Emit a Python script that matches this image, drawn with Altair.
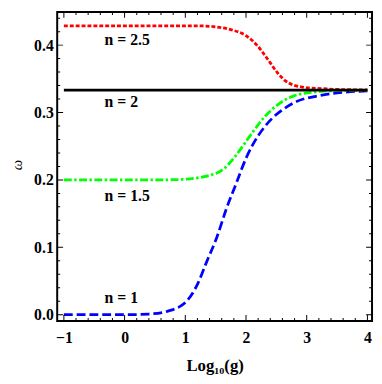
import altair as alt
import pandas as pd

# ---- data: x = log10(g), y = omega ----
lg_n1 = [-1.0, 0.0, 0.4, 0.7, 1.0, 1.2, 1.35, 1.52, 1.68, 1.84, 2.0, 2.11, 2.3, 2.45, 2.6, 2.8, 3.2, 3.6, 4.0]
w_n1 = [0.0, 0.0, 0.001, 0.005, 0.018, 0.045, 0.078, 0.115, 0.158, 0.195, 0.232, 0.252, 0.278, 0.293, 0.304, 0.315, 0.325, 0.330, 0.332]

lg_n15 = [-1.0, 0.5, 0.9, 1.2, 1.41, 1.6, 1.73, 1.89, 2.0, 2.16, 2.3, 2.5, 2.8, 3.2, 3.6, 4.0]
w_n15 = [0.2, 0.2, 0.2006, 0.203, 0.207, 0.214, 0.225, 0.243, 0.257, 0.277, 0.293, 0.310, 0.325, 0.331, 0.3328, 0.3332]

lg_n2 = [-1.0, 4.0]
w_n2 = [0.3333, 0.3333]

lg_n25 = [-1.0, 1.2, 1.6, 1.75, 2.0, 2.19, 2.35, 2.51, 2.65, 2.91, 3.24, 3.6, 4.0]
w_n25 = [0.4286, 0.4286, 0.426, 0.423, 0.414, 0.399, 0.380, 0.360, 0.347, 0.338, 0.3355, 0.334, 0.3336]

label_text = ["n = 2.5", "n = 2", "n = 1.5", "n = 1"]
label_x = [-0.33, -0.33, -0.33, -0.33]
label_y = [0.408, 0.315, 0.176, 0.024]

x_major = [-1, 0, 1, 2, 3, 4]
x_minor = [round(-1 + 0.2 * k, 2) for k in range(26) if k % 5 != 0]
y_major = [0.0, 0.1, 0.2, 0.3, 0.4]
y_minor = [round(0.02 * k, 2) for k in range(23) if k % 5 != 0]

W, H = 320, 314
FONT = "Liberation Serif"

xscale = alt.Scale(domain=[-1.11, 4.076], nice=False, zero=False)
yscale = alt.Scale(domain=[-0.0092, 0.4492], nice=False, zero=False)

x_axis = alt.Axis(values=x_major, format="d", ticks=False, domain=False, grid=False,
                  labelFont=FONT, labelFontWeight="bold", labelFontSize=16, labelColor="black",
                  labelPadding=9, labelFlush=False, labelOverlap=False,
                  title="Log₁₀(g)", titleFont=FONT, titleFontSize=17, titleFontWeight="bold",
                  titleColor="black", titleY=50, titleBaseline="alphabetic")
y_axis = alt.Axis(values=y_major, format=".1f", ticks=False, domain=False, grid=False,
                  labelFont=FONT, labelFontWeight="bold", labelFontSize=16, labelColor="black",
                  labelPadding=4, labelFlush=False, labelOverlap=False,
                  title="ω", titleFont=FONT, titleFontSize=15, titleFontStyle="italic",
                  titleFontWeight="normal", titleColor="black", titleX=-36, titleY=155,
                  titleAlign="center", titleBaseline="alphabetic", titleAngle=-90)

X = lambda f: alt.X(f, scale=xscale, axis=x_axis)
Y = lambda f: alt.Y(f, scale=yscale, axis=y_axis)


def curve(lg, w, color, dash, width):
    df = pd.DataFrame({"lg": lg, "w": w})
    return alt.Chart(df).mark_line(color=color, strokeWidth=width, strokeDash=dash,
                                   interpolate="monotone", clip=True).encode(
        x=X("lg:Q"), y=Y("w:Q"))


layers = [
    curve(lg_n1, w_n1, "#0000ff", [9, 4], 2.8),
    curve(lg_n15, w_n15, "#00ff00", [8, 2.5, 2.5, 2.5], 2.8),
    curve(lg_n25, w_n25, "#ff0000", [4, 2], 2.8),
    curve(lg_n2, w_n2, "black", [1, 0], 2.8),
]

xt = pd.DataFrame({"v": x_major + x_minor, "len": [12] * len(x_major) + [6] * len(x_minor)})
yt = pd.DataFrame({"v": y_major + y_minor, "len": [12] * len(y_major) + [6] * len(y_minor)})

for ypix in [0, H]:
    layers.append(alt.Chart(xt).mark_tick(orient="vertical", thickness=1, color="black", clip=True,
                                          opacity=1).encode(
        x=X("v:Q"), y=alt.value(ypix),
        size=alt.Size("len:Q", scale=None, legend=None)))
for xpix in [0, W]:
    layers.append(alt.Chart(yt).mark_tick(orient="horizontal", thickness=1, color="black", clip=True,
                                          opacity=1).encode(
        y=Y("v:Q"), x=alt.value(xpix),
        size=alt.Size("len:Q", scale=None, legend=None)))

labels = pd.DataFrame({"x": label_x, "y": label_y, "t": label_text})
layers.append(alt.Chart(labels).mark_text(font=FONT, fontWeight="bold", fontSize=16, color="black",
                                          align="left", baseline="middle").encode(
    x=X("x:Q"), y=Y("y:Q"), text="t:N"))

chart = alt.layer(*layers).properties(
    width=W, height=H,
    autosize=alt.AutoSizeParams(type="none"),
    padding={"left": 50, "top": 1, "right": 2, "bottom": 54},
    background="white",
).configure_view(stroke="black", strokeWidth=2)

chart.save("out.html", embed_options={"renderer": "svg", "actions": False})
